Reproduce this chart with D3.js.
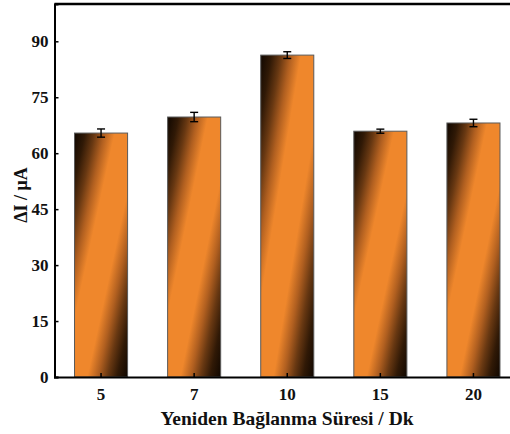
<html>
<head>
<meta charset='UTF-8'>
<script src="https://d3js.org/d3.v7.min.js"></script>
<style>
  body { margin: 0; background: #fff; }
  text { font-family: 'Liberation Serif', 'Times New Roman', serif; font-weight: bold; fill: #111; }
</style>
</head>
<body>
<svg id="chart" width="510" height="434"></svg>
<script>
// values
const categories = ['5', '7', '10', '15', '20'];
const values = [65.4, 69.7, 86.3, 65.9, 68.1];
const errors = [1.1, 1.25, 0.9, 0.55, 1.0];
const yTicks = [0, 15, 30, 45, 60, 75, 90];

const svg = d3.select('#chart');
const margin = {top: 4, left: 54.5};
const plotW = 520 - margin.left;
const plotH = 377 - margin.top;

// slanted gradient: dark top-left, orange middle, dark bottom-right
const grad = svg.append('defs').append('linearGradient')
  .attr('id', 'barFill')
  .attr('x1', 0).attr('y1', 0).attr('x2', 1).attr('y2', 1);
[[0, '#100700'], [0.1, '#301906'], [0.19, '#683812'], [0.28, '#b05f20'], [0.38, '#ef872c'],
 [0.62, '#ef872c'], [0.72, '#b05f20'], [0.81, '#683812'], [0.9, '#301906'], [1, '#100700']]
  .forEach(s => grad.append('stop').attr('offset', s[0]).attr('stop-color', s[1]));

const x = d3.scaleBand().domain(categories).range([0, plotW])
  .paddingInner(0.43).paddingOuter(0.215);
const y = d3.scaleLinear().domain([0, 100]).range([plotH, 0]);

const g = svg.append('g').attr('transform', `translate(${margin.left},${margin.top})`);

// bars
g.selectAll('rect.bar').data(values)
  .join('rect')
  .attr('class', 'bar')
  .attr('x', (d, i) => x(categories[i]))
  .attr('width', x.bandwidth())
  .attr('y', d => y(d))
  .attr('height', d => plotH - y(d))
  .attr('fill', 'url(#barFill)')
  .attr('stroke', '#5a5a5a')
  .attr('stroke-width', 1);

// error bars
const eb = g.selectAll('g.err').data(values)
  .join('g')
  .attr('class', 'err')
  .attr('transform', (d, i) => `translate(${x(categories[i]) + x.bandwidth() / 2},0)`)
  .attr('stroke', '#000')
  .attr('stroke-width', 1.4);
eb.append('line')
  .attr('y1', (d, i) => y(d + errors[i]))
  .attr('y2', (d, i) => y(d - errors[i]));
eb.append('line').attr('x1', -4).attr('x2', 4)
  .attr('y1', (d, i) => y(d + errors[i])).attr('y2', (d, i) => y(d + errors[i]));
eb.append('line').attr('x1', -4).attr('x2', 4)
  .attr('y1', (d, i) => y(d - errors[i])).attr('y2', (d, i) => y(d - errors[i]));

// axes with inward ticks
const leftAxis = d3.axisLeft(y).tickValues(yTicks).tickSize(-4).tickPadding(9);
const yAxisG = g.append('g').call(leftAxis);
yAxisG.selectAll('text').style('font-size', '17px').attr('x', -6);

const bottomAxis = d3.axisBottom(x).tickSize(-4).tickPadding(11);
const xAxisG = g.append('g').attr('transform', `translate(0,${plotH})`).call(bottomAxis);
xAxisG.selectAll('text').style('font-size', '17px');

[yAxisG, xAxisG].forEach(a => {
  a.select('.domain').attr('stroke', '#000').attr('stroke-width', 2);
  a.selectAll('.tick line').attr('stroke', '#000').attr('stroke-width', 1.5);
});

// top frame
g.append('line')
  .attr('x1', 0).attr('x2', plotW).attr('y1', 0).attr('y2', 0)
  .attr('stroke', '#000').attr('stroke-width', 2.5);

// axis titles
svg.append('text')
  .attr('x', 287).attr('y', 425)
  .attr('text-anchor', 'middle')
  .style('font-size', '19.5px')
  .text('Yeniden Bağlanma Süresi / Dk');

svg.append('text')
  .attr('transform', `translate(27,195) rotate(-90)`)
  .attr('text-anchor', 'middle')
  .style('font-size', '18px')
  .text('ΔI / μA');
</script>
</body>
</html>
